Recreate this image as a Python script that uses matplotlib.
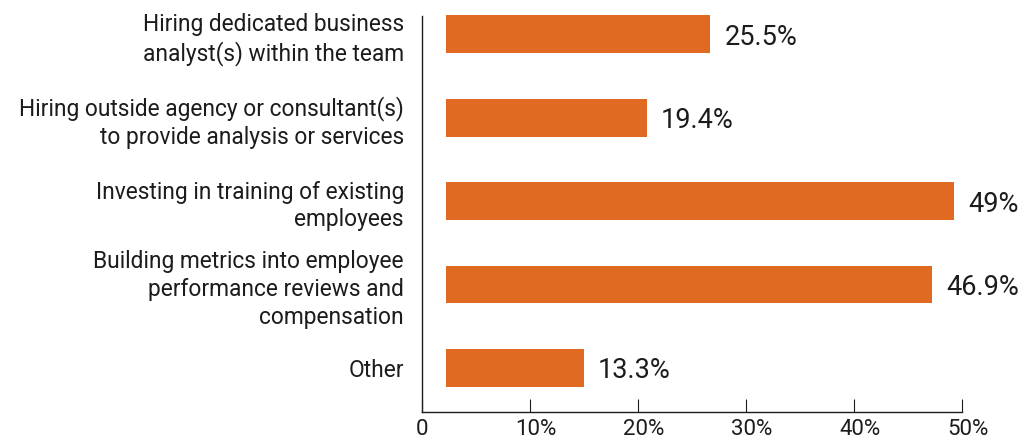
import matplotlib
matplotlib.use("Agg")
import matplotlib.pyplot as plt
import matplotlib.transforms as mtransforms
import numpy as np

categories = [
    "Hiring dedicated business\nanalyst(s) within the team",
    "Hiring outside agency or consultant(s)\nto provide analysis or services",
    "Investing in training of existing\nemployees",
    "Building metrics into employee\nperformance reviews and\ncompensation",
    "Other",
]
values = [25.5, 19.4, 49, 46.9, 13.3]
value_labels = ["25.5%", "19.4%", "49%", "46.9%", "13.3%"]
tick_values = [0, 10, 20, 30, 40, 50]
tick_labels = ["0", "10%", "20%", "30%", "40%", "50%"]

BAR_COLOR = "#E06A22"
TEXT_COLOR = "#1c1c1c"

plt.rcParams["font.family"] = ["Roboto", "DejaVu Sans"]

fig = plt.figure(figsize=(10.30, 4.42), dpi=100)
ax = fig.add_axes([0.4097, 0.0679, 0.9340 - 0.4097, 0.9638 - 0.0679])

y = np.arange(len(categories))

# axis with the percent scale
ax.set_xlim(0, 50)
ax.set_ylim(4.527, -0.216)
ax.set_xticks(tick_values)
ax.set_xticklabels(tick_labels, fontsize=16, color=TEXT_COLOR)
ax.set_yticks(y)
ax.set_yticklabels(categories, fontsize=16.4, color=TEXT_COLOR, linespacing=1.26)
ax.tick_params(axis="x", direction="in", length=9.4, width=0.8, pad=5, color=TEXT_COLOR)
ax.tick_params(axis="y", length=0, pad=13)
for side in ("top", "right"):
    ax.spines[side].set_visible(False)
for side in ("left", "bottom"):
    ax.spines[side].set_linewidth(1.0)
    ax.spines[side].set_color(TEXT_COLOR)

# nudge the percent labels a little to the right
shift = mtransforms.ScaledTranslation(0.06, 0, fig.dpi_scale_trans)
for lbl in ax.get_xticklabels()[1:]:
    lbl.set_transform(lbl.get_transform() + shift)

# bars live on their own hidden x scale, starting just off the spine
bx = ax.twiny()
bx.set_xlim(-2.31, 49.76)
bx.set_ylim(ax.get_ylim())
bx.axis("off")
bx.barh(y, values, height=0.455, color=BAR_COLOR, clip_on=False)
for yi, v, lab in zip(y, values, value_labels):
    bx.annotate(lab, (v, yi), xytext=(10, 0), textcoords="offset points",
                ha="left", va="center_baseline", fontsize=19.5, color=TEXT_COLOR)

fig.savefig("out.png", dpi=100)
